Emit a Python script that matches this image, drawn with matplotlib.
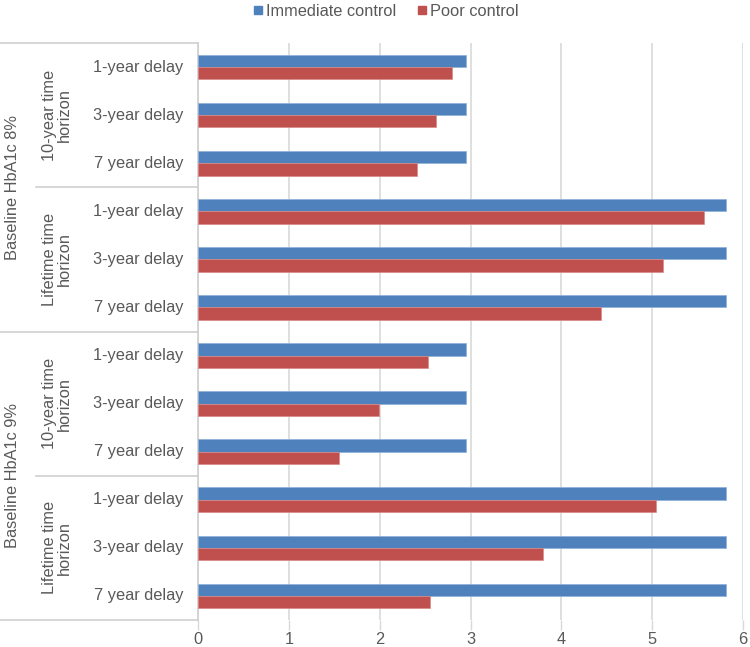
import matplotlib
matplotlib.use("Agg")
import matplotlib.pyplot as plt
from matplotlib.lines import Line2D
import matplotlib.transforms as mtransforms

plt.rcParams['font.family'] = ['Liberation Sans', 'DejaVu Sans']

delays = ["1-year delay", "3-year delay", "7 year delay"]
horizons = ["10-year time\nhorizon", "Lifetime time\nhorizon"]
baselines = ["Baseline HbA1c 8%", "Baseline HbA1c 9%"]
immediate = [2.95, 2.95, 2.95, 5.81, 5.81, 5.81,
             2.95, 2.95, 2.95, 5.81, 5.81, 5.81]
poor = [2.80, 2.62, 2.41, 5.57, 5.12, 4.44,
        2.53, 1.99, 1.55, 5.04, 3.80, 2.55]
xticks = [0, 1, 2, 3, 4, 5, 6]

BLUE = "#4F81BD"
RED = "#C0504D"
TXT = "#595959"
GRID = "#D9D9D9"
LINE = "#D0D0D0"
FS = 11.8

W, H = 750, 647
fig = plt.figure(figsize=(W / 100, H / 100), dpi=100)
ax = fig.add_axes([198 / W, 1 - 620 / H, (743 - 198) / W, (620 - 43) / H])

n = len(immediate)
ys = list(range(n))
h = 0.256
ax.barh([y - h / 2 for y in ys], immediate, height=h, color=BLUE,
        edgecolor="#8FB0DA", linewidth=0.5, label="Immediate control", zorder=3)
ax.barh([y + h / 2 for y in ys], poor, height=h, color=RED,
        edgecolor="#D98A88", linewidth=0.5, label="Poor control", zorder=3)

ax.set_ylim(n - 0.5, -0.5)
ax.set_xlim(0, 6)
ax.set_xticks(xticks)
ax.set_xticklabels([str(t) for t in xticks], fontsize=FS, color=TXT)
ax.tick_params(axis="x", length=7, width=1, color=GRID, pad=2)
ax.set_yticks([])
ax.grid(axis="x", color=GRID, linewidth=1.2, zorder=0)
for s in ["top", "right", "bottom"]:
    ax.spines[s].set_visible(False)
ax.spines["left"].set_color(LINE)
ax.spines["left"].set_linewidth(1.2)

tr = mtransforms.blended_transform_factory(fig.transFigure, ax.transData)

# delay labels
for i in range(n):
    ax.text(183 / W, i, delays[i % 3], transform=tr, ha="right", va="center",
            fontsize=FS, color=TXT, clip_on=False)

# horizon labels
for g in range(4):
    yc = g * 3 + 1
    ax.text(57 / W, yc, horizons[g % 2], transform=tr, ha="center", va="center",
            rotation=90, fontsize=FS, color=TXT, linespacing=1.0, clip_on=False)

# baseline labels
for b in range(2):
    yc = b * 6 + 2.5
    ax.text(13 / W, yc, baselines[b], transform=tr, ha="center", va="center",
            rotation=90, fontsize=FS, color=TXT, clip_on=False)

# separator lines in category area
for yb, x0 in [(-0.5, 0), (2.5, 36), (5.5, 0), (8.5, 36), (11.5, 0)]:
    ax.add_line(Line2D([x0 / W, 198 / W], [yb, yb], transform=tr, color=LINE,
                       linewidth=1.2, clip_on=False))

handles = [Line2D([], [], marker="s", linestyle="none", markersize=6,
                  markerfacecolor=BLUE, markeredgecolor=BLUE, label="Immediate control"),
           Line2D([], [], marker="s", linestyle="none", markersize=6,
                  markerfacecolor=RED, markeredgecolor=RED, label="Poor control")]
leg = fig.legend(handles=handles, loc="center", bbox_to_anchor=(385 / W, 1 - 11 / H),
                 ncol=2, frameon=False, fontsize=FS, handletextpad=0.1,
                 columnspacing=1.2, handlelength=0.8)
for t in leg.get_texts():
    t.set_color(TXT)

fig.savefig("out.png", dpi=100)
